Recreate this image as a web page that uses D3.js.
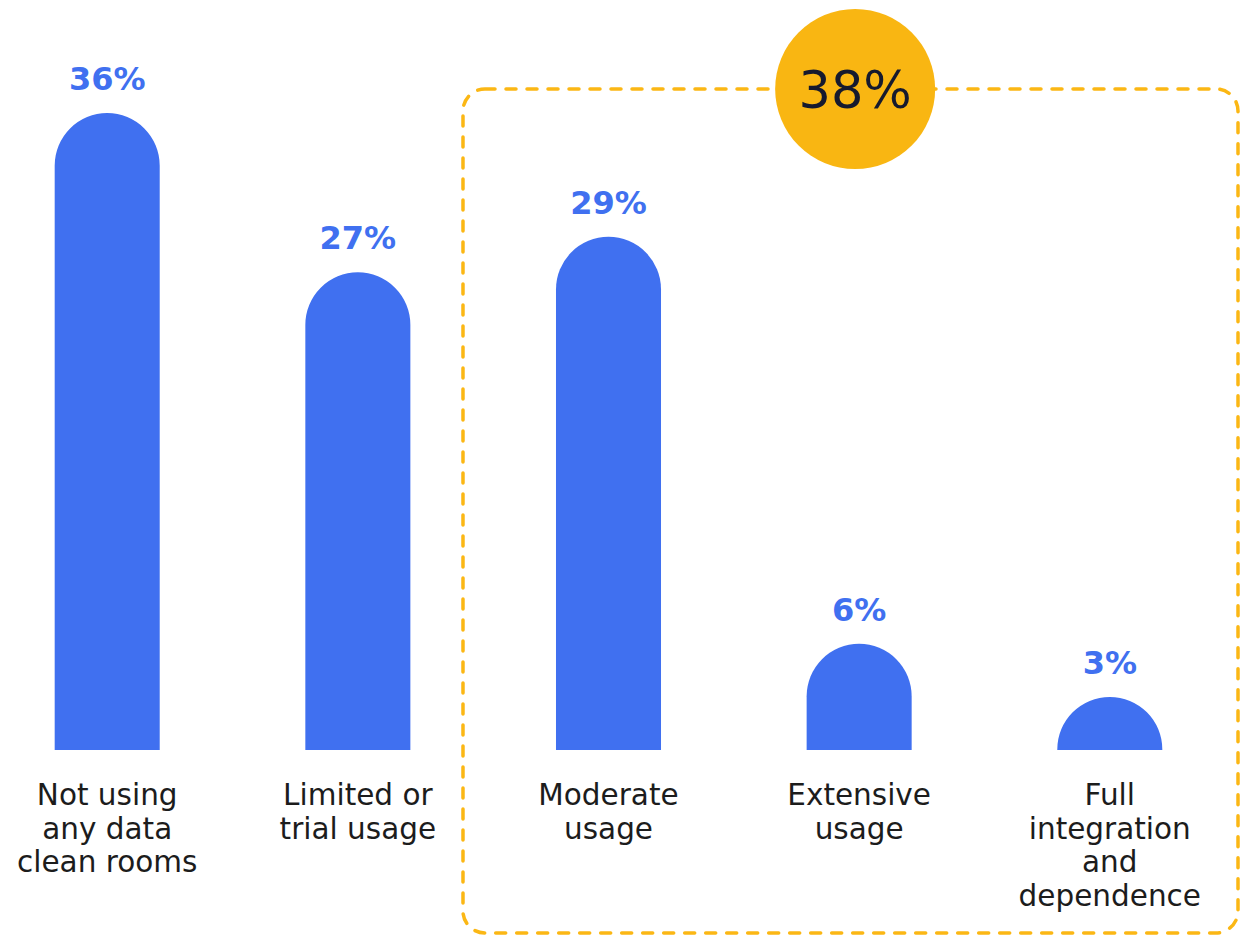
<!DOCTYPE html>
<html>
<head>
<meta charset="utf-8">
<script src="https://cdn.jsdelivr.net/npm/d3@7"></script>
<style>
  html, body { margin: 0; padding: 0; background: #ffffff; }
  svg { display: block; }
</style>
</head>
<body>
<svg id="chart" width="1240" height="935"></svg>
<script>
// Share of respondents by level of data clean room adoption
const categories = [
  "Not using any data clean rooms",
  "Limited or trial usage",
  "Moderate usage",
  "Extensive usage",
  "Full integration and dependence"
];
const categoryLines = [
  ["Not using", "any data", "clean rooms"],
  ["Limited or", "trial usage"],
  ["Moderate", "usage"],
  ["Extensive", "usage"],
  ["Full", "integration", "and", "dependence"]
];
const values = [36, 27, 29, 6, 3];
// Combined share of the last three groups
const highlightIndex = [2, 3, 4];
const highlightTotal = 38;

const W = 1240, H = 935;
const baseline = 750;
const blue = "#4070F0";
const amber = "#FBB714";
const font = "'DejaVu Sans', sans-serif";

const svg = d3.select("#chart");

const x = d3.scaleBand()
  .domain(categories)
  .range([-18, 1235])
  .paddingInner(0.581)
  .paddingOuter(0.29);

const y = d3.scaleLinear()
  .domain([0, 36])
  .range([baseline, 113]);

// Dashed outline around the highlighted groups, with the total badge on its top edge
const first = categories[highlightIndex[0]];
const boxLeft = x(first) - 93;
const boxTop = 89;
const boxRight = 1238;
const boxBottom = 933;

svg.append("rect")
  .attr("x", boxLeft)
  .attr("y", boxTop)
  .attr("width", boxRight - boxLeft)
  .attr("height", boxBottom - boxTop)
  .attr("rx", 22)
  .attr("fill", "none")
  .attr("stroke", amber)
  .attr("stroke-width", 3.5)
  .attr("stroke-linecap", "round")
  .attr("stroke-dasharray", "10 11");

// Bars with a rounded top cap
function barPath(d, i) {
  const x0 = x(categories[i]);
  const w = x.bandwidth();
  const top = y(d);
  const h = baseline - top;
  const r = Math.min(w / 2, h);
  const p = d3.path();
  p.moveTo(x0, baseline);
  p.lineTo(x0, top + r);
  p.arcTo(x0, top, x0 + r, top, r);
  p.lineTo(x0 + w - r, top);
  p.arcTo(x0 + w, top, x0 + w, top + r, r);
  p.lineTo(x0 + w, baseline);
  p.closePath();
  return p.toString();
}

svg.append("g")
  .selectAll("path")
  .data(values)
  .join("path")
  .attr("d", barPath)
  .attr("fill", blue);

// Value labels
svg.append("g")
  .selectAll("text")
  .data(values)
  .join("text")
  .attr("x", (d, i) => x(categories[i]) + x.bandwidth() / 2)
  .attr("y", d => y(d) - 23)
  .attr("text-anchor", "middle")
  .attr("font-family", font)
  .attr("font-weight", 700)
  .attr("font-size", 32)
  .attr("fill", blue)
  .text(d => d + "%");

// Category labels
const labels = svg.append("g")
  .selectAll("text")
  .data(categoryLines)
  .join("text")
  .attr("text-anchor", "middle")
  .attr("font-family", font)
  .attr("font-size", 29.5)
  .attr("fill", "#1c1c1c");

labels.each(function (lines, i) {
  const cx = x(categories[i]) + x.bandwidth() / 2;
  d3.select(this).selectAll("tspan")
    .data(lines)
    .join("tspan")
    .attr("x", cx)
    .attr("y", (l, j) => 805 + j * 33.5)
    .text(l => l);
});

// Total badge
const badgeX = (x(categories[2]) + x(categories[4]) + x.bandwidth()) / 2 - 4;
svg.append("circle")
  .attr("cx", badgeX)
  .attr("cy", boxTop)
  .attr("r", 80)
  .attr("fill", "#F9B612");

svg.append("text")
  .attr("x", badgeX)
  .attr("y", boxTop + 19)
  .attr("text-anchor", "middle")
  .attr("font-family", font)
  .attr("font-size", 51)
  .attr("fill", "#161A2E")
  .text(highlightTotal + "%");
</script>
</body>
</html>
